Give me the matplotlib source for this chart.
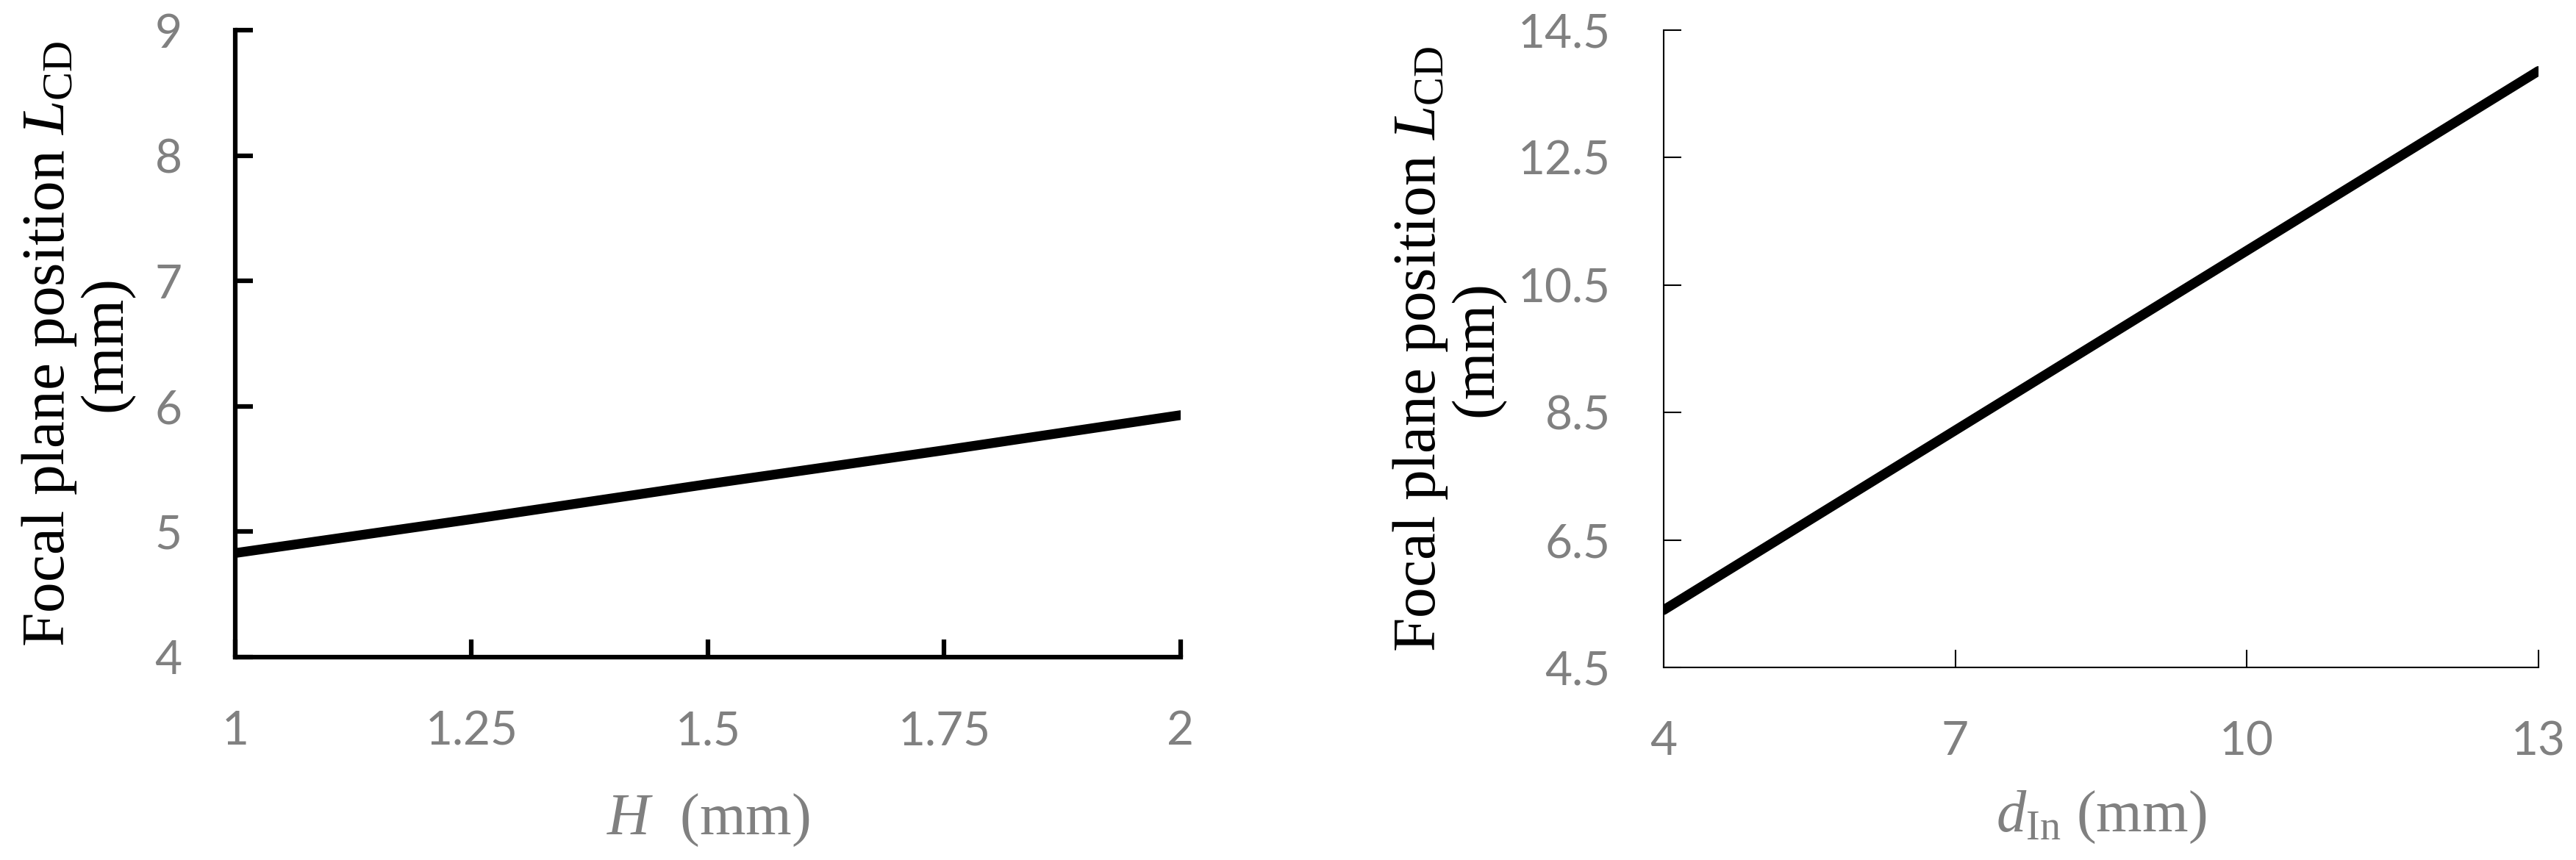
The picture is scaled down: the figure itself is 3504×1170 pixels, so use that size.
import numpy as np
import matplotlib
matplotlib.use("Agg")
import matplotlib.pyplot as plt

# 왼쪽 그래프 데이터 (H 변화)
h_vals = [1, 1.25, 1.5, 1.75, 2]
lcd_h = [4.83, 5.10, 5.38, 5.65, 5.93]
h_ticks = [1, 1.25, 1.5, 1.75, 2]
h_ticklabels = ["1", "1.25", "1.5", "1.75", "2"]
h_yticks = [4, 5, 6, 7, 8, 9]

# 오른쪽 그래프 데이터 (d_In 변화)
d_vals = [4, 7, 10, 13]
lcd_d = [5.40, 8.22, 11.04, 13.86]
d_ticks = [4, 7, 10, 13]
d_yticks = [4.5, 6.5, 8.5, 10.5, 12.5, 14.5]

plt.rcParams['mathtext.fontset'] = 'custom'
plt.rcParams['mathtext.rm'] = 'Liberation Serif'
plt.rcParams['mathtext.it'] = 'Liberation Serif:italic'

GRAY = '#808080'
serif = ['Liberation Serif', 'DejaVu Serif']
tickfont = ['Lato', 'DejaVu Sans']

fig = plt.figure(figsize=(35.04, 11.70), dpi=100)
ax1 = fig.add_axes([0.0913, 0.2359, 0.367, 0.729])
ax2 = fig.add_axes([0.6458, 0.2239, 0.3396, 0.741])


def style_axis(ax, spine_w):
    for s in ['top', 'right']:
        ax.spines[s].set_visible(False)
    for s in ['left', 'bottom']:
        ax.spines[s].set_linewidth(spine_w)
        ax.spines[s].set_color('black')
    ax.tick_params(direction='in', length=17, width=spine_w, color='black',
                   labelcolor=GRAY, labelsize=46, pad=52)
    for lab in ax.get_xticklabels() + ax.get_yticklabels():
        lab.set_family(tickfont)


# 왼쪽
ax1.plot(h_vals, lcd_h, color='black', lw=9.5, solid_capstyle='round')
ax1.set_xlim(1, 2)
ax1.set_ylim(4, 9)
ax1.set_xticks(h_ticks)
ax1.set_xticklabels(h_ticklabels)
ax1.set_yticks(h_yticks)
style_axis(ax1, 4.5)
ax1.set_ylabel("Focal plane position $L_{\\mathrm{CD}}$\n(mm)", family=serif,
               fontsize=60, color='black', va='center', linespacing=1.0)
ax1.yaxis.set_label_coords(-0.167, 0.5)
ax1.set_xlabel("$H$  (mm)", family=serif, fontsize=58, color=GRAY, va='center')
ax1.xaxis.set_label_coords(0.5, -0.26)

# 오른쪽
ax2.plot(d_vals, lcd_d, color='black', lw=9.5, solid_capstyle='round')
ax2.set_xlim(4, 13)
ax2.set_ylim(4.5, 14.5)
ax2.set_xticks(d_ticks)
ax2.set_yticks(d_yticks)
style_axis(ax2, 1.5)
ax2.set_ylabel("Focal plane position $L_{\\mathrm{CD}}$\n(mm)", family=serif,
               fontsize=60, color='black', va='center', linespacing=1.0)
ax2.yaxis.set_label_coords(-0.246, 0.5)
ax2.set_xlabel("$d_{\\mathrm{In}}$ (mm)", family=serif, fontsize=58, color=GRAY,
               va='center')
ax2.xaxis.set_label_coords(0.5, -0.235)

fig.savefig("out.png", dpi=100)
